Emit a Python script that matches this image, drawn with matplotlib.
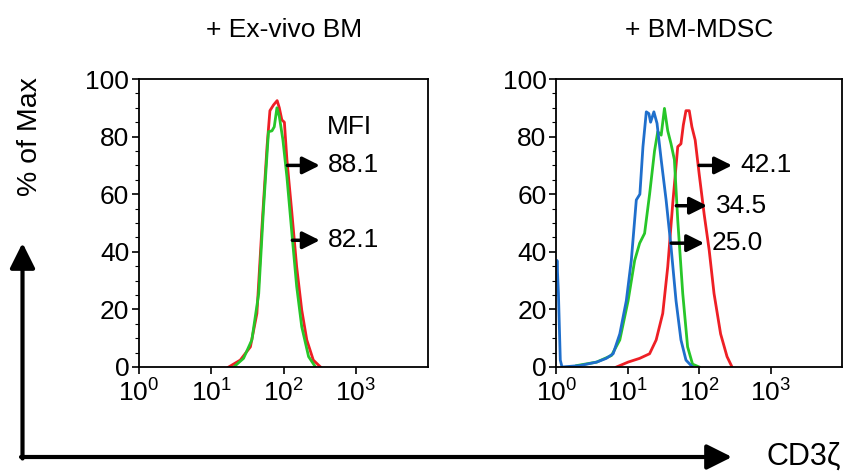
import numpy as np
import matplotlib
matplotlib.use("Agg")
import matplotlib.pyplot as plt
from matplotlib.patches import FancyArrowPatch
from matplotlib.ticker import MultipleLocator, LogLocator, NullFormatter

plt.rcParams['font.family'] = ['Liberation Sans', 'DejaVu Sans']
plt.rcParams['mathtext.fontset'] = 'custom'
plt.rcParams['mathtext.rm'] = 'Liberation Sans'
plt.rcParams['mathtext.it'] = 'Liberation Sans'

titles = ["+ Ex-vivo BM", "+ BM-MDSC"]

# curves: log10(CD3z) and % of Max
exv_red_logx = [1.24, 1.40, 1.54, 1.63, 1.70, 1.77, 1.81, 1.86, 1.91, 1.94, 1.975, 2.01, 2.045, 2.11, 2.18, 2.25, 2.32, 2.41, 2.51]
exv_red_y = [0, 2.4, 7, 18.6, 48.7, 76.5, 89, 91, 92.5, 90, 85.8, 85, 72, 54.5, 34.8, 19.8, 9.4, 2.4, 0]
exv_green_logx = [1.31, 1.445, 1.56, 1.655, 1.72, 1.79, 1.838, 1.87, 1.907, 1.94, 1.99, 2.045, 2.114, 2.18, 2.25, 2.345, 2.44]
exv_green_y = [0, 3, 9.4, 25.5, 54.5, 81.7, 82, 83.4, 90, 87, 78.8, 66, 46.4, 28, 14, 3.6, 0]

mdsc_blue_logx = [0.0, 0.01, 0.03, 0.056, 0.08, 0.33, 0.565, 0.70, 0.796, 0.889, 0.98, 1.05, 1.12, 1.17, 1.213, 1.26, 1.296, 1.32, 1.366, 1.41, 1.468, 1.537, 1.606, 1.676, 1.745, 1.815, 1.907]
mdsc_blue_y = [30, 37, 25.5, 2.4, 0, 0.5, 1.7, 3, 4.6, 11.5, 23, 37, 58, 60, 76.5, 88.6, 88, 85, 88.6, 84.6, 72, 58, 41.7, 23, 9.4, 2.4, 0]
mdsc_green_logx = [0.287, 0.565, 0.773, 0.889, 1.005, 1.097, 1.167, 1.236, 1.306, 1.375, 1.42, 1.468, 1.514, 1.56, 1.606, 1.653, 1.70, 1.77, 1.838, 1.907, 2.0]
mdsc_green_y = [0.5, 1.7, 4, 9.4, 23, 37, 43, 46.4, 60, 75, 81.7, 80.5, 89.8, 82, 77.5, 72, 51, 25.5, 7, 1, 0]
mdsc_red_logx = [0.843, 1.005, 1.167, 1.306, 1.398, 1.49, 1.56, 1.63, 1.70, 1.745, 1.778, 1.815, 1.861, 1.898, 1.944, 2.0, 2.07, 2.14, 2.208, 2.30, 2.39, 2.46]
mdsc_red_y = [0, 1.7, 3, 4.6, 9.4, 18.6, 34.8, 56.8, 76.5, 77.5, 84, 89, 89, 83.4, 78.8, 67, 53, 40.6, 25.5, 11.5, 3.6, 0]

# MFI labels: value, arrow start / arrow tip / text start (log x), y
exv_mfi = ["88.1", "82.1"]
exv_mfi_x0 = [2.05, 2.12]
exv_mfi_x1 = [2.50, 2.50]
exv_mfi_xt = [2.61, 2.61]
exv_mfi_y = [70, 44]
mdsc_mfi = ["42.1", "34.5", "25.0"]
mdsc_mfi_x0 = [2.0, 1.68, 1.61]
mdsc_mfi_x1 = [2.46, 2.11, 2.07]
mdsc_mfi_xt = [2.58, 2.24, 2.17]
mdsc_mfi_y = [70, 56, 43]

RED = '#ee1f25'
GREEN = '#27c629'
BLUE = '#1f6fcc'
FS = 19

fig = plt.figure(figsize=(8.48, 4.76), dpi=100)
ax1 = fig.add_axes([0.164, 0.229, 0.341, 0.605])
ax2 = fig.add_axes([0.656, 0.229, 0.337, 0.605])

ax1.plot(10 ** np.array(exv_red_logx), exv_red_y, color=RED, lw=2)
ax1.plot(10 ** np.array(exv_green_logx), exv_green_y, color=GREEN, lw=2)
ax2.plot(10 ** np.array(mdsc_red_logx), mdsc_red_y, color=RED, lw=2)
ax2.plot(10 ** np.array(mdsc_green_logx), mdsc_green_y, color=GREEN, lw=2)
ax2.plot(10 ** np.array(mdsc_blue_logx), mdsc_blue_y, color=BLUE, lw=2)

for ax, t in zip([ax1, ax2], titles):
    ax.set_xscale('log')
    ax.set_xlim(1, 1e4)
    ax.set_ylim(0, 100)
    ax.set_xticks([1, 10, 100, 1000])
    ax.xaxis.set_minor_locator(LogLocator(base=10, subs=np.arange(2, 10)))
    ax.xaxis.set_minor_formatter(NullFormatter())
    ax.yaxis.set_major_locator(MultipleLocator(20))
    ax.yaxis.set_minor_locator(MultipleLocator(5))
    ax.tick_params(which='major', length=5, width=1.2, labelsize=FS, pad=2)
    ax.tick_params(axis='x', which='major', pad=4)
    ax.tick_params(which='minor', length=3, width=0.8)
    for s in ax.spines.values():
        s.set_linewidth(1.3)
    ax.set_title(t, fontsize=FS, pad=30)

def mfi(ax, labels, x0, x1, xt, ys):
    for lab, a, b, c, y in zip(labels, x0, x1, xt, ys):
        ax.annotate('', xy=(10 ** b, y), xytext=(10 ** a, y),
                    arrowprops=dict(arrowstyle='-|>', lw=2.5, color='black', mutation_scale=26,
                                    shrinkA=0, shrinkB=0))
        ax.text(10 ** c, y, lab, fontsize=FS, va='center', ha='left')

mfi(ax1, exv_mfi, exv_mfi_x0, exv_mfi_x1, exv_mfi_xt, exv_mfi_y)
ax1.text(10 ** 2.6, 83.5, "MFI", fontsize=FS, va='center', ha='left')
mfi(ax2, mdsc_mfi, mdsc_mfi_x0, mdsc_mfi_x1, mdsc_mfi_xt, mdsc_mfi_y)

ax1.set_ylabel("% of Max", fontsize=20.5)
ax1.yaxis.set_label_coords(-0.332, 0.80)

# big axis arrows in pixel space
W, H = 848, 476
def fpx(x, y):
    return (x / W, 1 - y / H)
fig.patches.append(FancyArrowPatch(fpx(22.5, 458.5), fpx(22.5, 243), transform=fig.transFigure,
                                   arrowstyle='-|>', lw=3, color='black', mutation_scale=38,
                                   shrinkA=0, shrinkB=0))
fig.patches.append(FancyArrowPatch(fpx(21, 457), fpx(732, 457), transform=fig.transFigure,
                                   arrowstyle='-|>', lw=3, color='black', mutation_scale=38,
                                   shrinkA=0, shrinkB=0))
fig.text(767 / W, 1 - 457 / H, "CD3ζ", fontsize=22, va='center', ha='left')

fig.savefig("out.png", dpi=100)
